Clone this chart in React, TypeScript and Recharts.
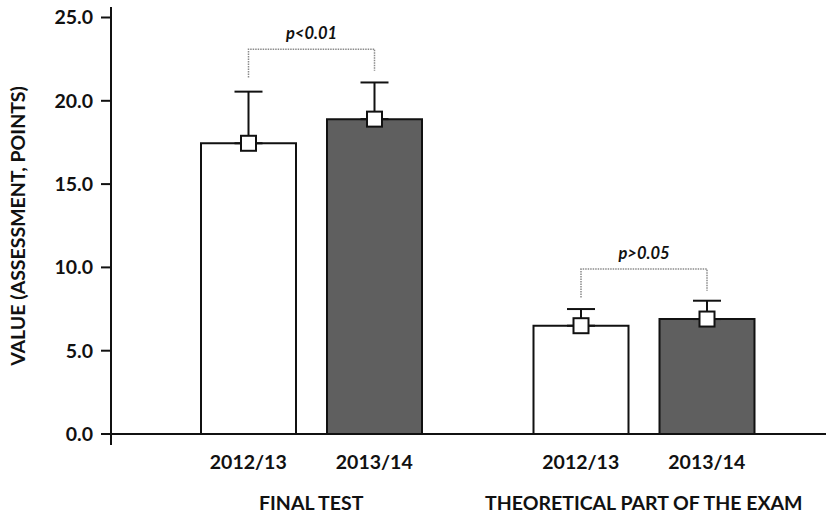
import { Bar, Cell, ComposedChart, ErrorBar, LabelList, ReferenceLine, XAxis, YAxis } from "recharts";

// Values
const GROUPS = ["FINAL TEST", "THEORETICAL PART OF THE EXAM"];
const YEARS = ["2012/13", "2013/14"];
const MEAN_2012 = [17.45, 6.5];
const MEAN_2013 = [18.9, 6.9];
const SD_2012 = [3.1, 1.0];
const SD_2013 = [2.2, 1.1];
const P_LABELS = ["p<0.01", "p>0.05"];
const BRACKET_TOP = [23.1, 9.9];
const BRACKET_LEFT_END = [21.4, 8.2];
const BRACKET_RIGHT_END = [21.8, 8.6];
const Y_TICKS = [0, 5, 10, 15, 20, 25];

const FONT = "Lato, 'Open Sans', sans-serif";
const FS = 19.5;
const BAR_SIZE = 95;
const BAR_GAP = 31;
const DARK = "#5f5f5f";
const INK = "#111";

const data = GROUPS.map((group, i) => ({
  group,
  y1: MEAN_2012[i],
  y2: MEAN_2013[i],
  e1: [0, SD_2012[i]],
  e2: [0, SD_2013[i]],
}));

function Square({ cx, cy }: { cx: number; cy: number }) {
  return <rect x={cx - 7.5} y={cy - 7.5} width={15} height={15} fill="#fff" stroke={INK} strokeWidth={2} />;
}

// Left bar label: mean marker + significance bracket spanning to the paired bar
function LeftMarks(p: any) {
  const x = Number(p.x), y = Number(p.y), w = Number(p.width), h = Number(p.height);
  const v = Number(p.value);
  const i = p.index as number;
  const k = h / v;
  const base = y + h;
  const py = (val: number) => base - val * k;
  const cx = x + w / 2;
  const cx2 = cx + BAR_SIZE + BAR_GAP;
  const top = py(BRACKET_TOP[i]);
  const dot = { stroke: "#8a8a8a", strokeWidth: 1.5, strokeDasharray: "1.5 1", fill: "none" };
  return (
    <g>
      <path d={`M${cx},${py(BRACKET_LEFT_END[i])}V${top}H${cx2}V${py(BRACKET_RIGHT_END[i])}`} {...dot} />
      <text x={(cx + cx2) / 2} y={top - 10} textAnchor="middle" fontFamily={FONT} fontSize={16.5}
        fontWeight={700} fontStyle="italic" fill={INK}>{P_LABELS[i]}</text>
      <Square cx={cx} cy={y} />
    </g>
  );
}

function RightMarks(p: any) {
  const x = Number(p.x), y = Number(p.y), w = Number(p.width);
  return <Square cx={x + w / 2} cy={y} />;
}

function GroupTick({ x, y, payload }: any) {
  const off = (BAR_SIZE + BAR_GAP) / 2;
  const common = { textAnchor: "middle" as const, fontFamily: FONT, fontWeight: 700, fill: INK, fontSize: FS };
  return (
    <g>
      <text x={x - off} y={y + 24} {...common}>{YEARS[0]}</text>
      <text x={x + off} y={y + 24} {...common}>{YEARS[1]}</text>
      <text x={x} y={y + 65} {...common}>{payload.value}</text>
    </g>
  );
}

function YLabel() {
  return (
    <text x={0} y={0} transform="translate(25,226) rotate(-90)" textAnchor="middle" fontFamily={FONT}
      fontSize={FS} fontWeight={700} fill={INK}>VALUE (ASSESSMENT, POINTS)</text>
  );
}

export default function App() {
  return (
    <div style={{ position: "absolute", left: 0, top: 0, background: "#fff" }}>
      <ComposedChart width={826} height={514} data={data} barSize={BAR_SIZE} barGap={BAR_GAP}
        margin={{ top: 7, right: 0, bottom: 0, left: 0 }}>
        <XAxis dataKey="group" height={69} axisLine={false} tickLine={false} tickSize={0} tickMargin={0}
          padding={{ left: 34, right: 16 }} tick={<GroupTick />} interval={0} />
        <YAxis width={111} domain={[0, 25]} ticks={Y_TICKS} padding={{ top: 10.5, bottom: 11 }}
          tickFormatter={(v: number) => v.toFixed(1)} tickSize={10} tickMargin={8}
          axisLine={{ stroke: INK, strokeWidth: 2 }} tickLine={{ stroke: INK, strokeWidth: 2 }}
          tick={{ fill: INK, fontSize: FS, fontWeight: 700, fontFamily: FONT }}
          label={<YLabel />} />
        <ReferenceLine y={0} stroke={INK} strokeWidth={2} />
        <Bar dataKey="y1" fill="#fff" stroke={INK} strokeWidth={2} isAnimationActive={false}>
          <ErrorBar dataKey="e1" width={14} stroke={INK} strokeWidth={2} isAnimationActive={false} />
          <LabelList dataKey="y1" content={<LeftMarks />} />
        </Bar>
        <Bar dataKey="y2" fill={DARK} stroke={INK} strokeWidth={2} isAnimationActive={false}>
          {data.map((d) => <Cell key={d.group} fill={DARK} />)}
          <ErrorBar dataKey="e2" width={14} stroke={INK} strokeWidth={2} isAnimationActive={false} />
          <LabelList dataKey="y2" content={<RightMarks />} />
        </Bar>
      </ComposedChart>
    </div>
  );
}
